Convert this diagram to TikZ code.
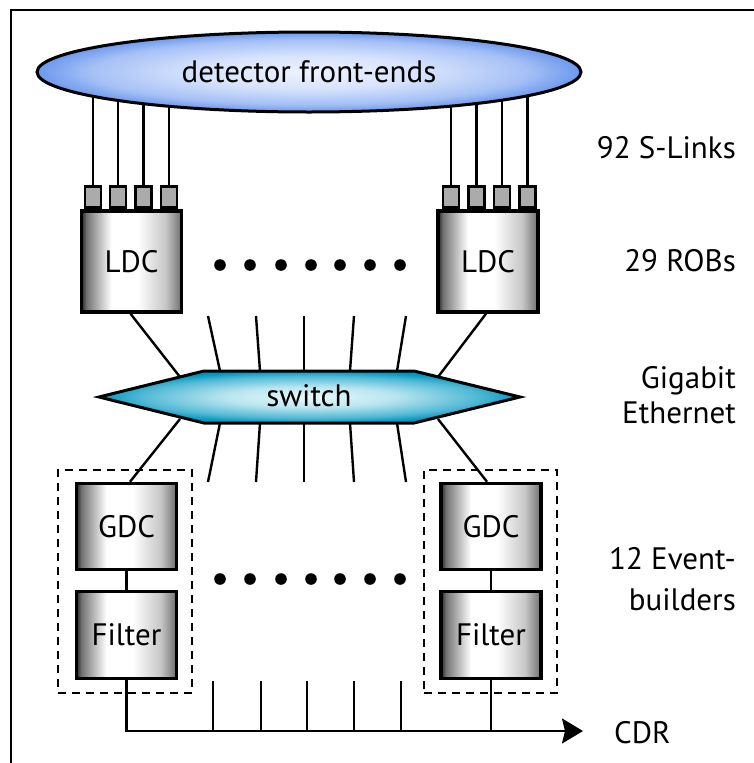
\documentclass[tikz,border=0pt]{standalone}
\usepackage{fontspec}
\setmainfont{PT Sans}
\usetikzlibrary{arrows.meta,shapes.geometric}
\pgfdeclarelayer{background}
\pgfsetlayers{background,main}
\pgfdeclarehorizontalshading{boxshade}{100bp}{color(0bp)=(black!85); color(25bp)=(black!85); color(27.5bp)=(black!55); color(40bp)=(white); color(53bp)=(white); color(67bp)=(black!22); color(73.5bp)=(black!50); color(75bp)=(black!65); color(100bp)=(black!65)}
\definecolor{feout}{RGB}{108,152,238}
\definecolor{fein}{RGB}{236,242,255}
\definecolor{swout}{RGB}{0,150,192}
\definecolor{swin}{RGB}{232,249,252}
\pgfdeclareradialshading{feshade}{\pgfpoint{0bp}{0bp}}{color(0bp)=(fein); color(10bp)=(fein!85!feout); color(20bp)=(fein!45!feout); color(25bp)=(feout); color(50bp)=(feout)}
\pgfdeclareradialshading{swshade}{\pgfpoint{0bp}{0bp}}{color(0bp)=(swin); color(10bp)=(swin!80!swout); color(20bp)=(swin!35!swout); color(25bp)=(swout); color(50bp)=(swout)}
\newcommand{\lblfont}{\fontsize{31}{31}\selectfont}
\begin{document}
\begin{tikzpicture}[x=1pt,y=-1pt,
  unitbox/.style={draw, line width=3.5pt, shading=boxshade, minimum width=100pt, inner sep=0pt, font=\lblfont},
  sq/.style={draw, line width=2.8pt, fill=black!33, minimum width=16pt, minimum height=21pt, inner sep=0pt},
  wire/.style={line width=2.4pt},
  dashbox/.style={draw, line width=2.4pt, dash pattern=on 8pt off 6pt},
  lbl/.style={anchor=base east, font=\lblfont, inner sep=0pt},
  dotmark/.style={fill=black}]
\useasboundingbox (0,0) rectangle (754,763);
% frame
\draw[line width=2.2pt] (754,10) -- (11,10) -- (11,763);
% front-ends
\node[ellipse, draw, line width=3pt, shading=feshade, minimum width=544pt, minimum height=80pt, font=\lblfont] (fe) at (309,72) {detector front-ends};
% S-link connectors
\foreach \i/\x in {1/93,2/118,3/143.5,4/169}{\node[sq] (ls\i) at (\x,197) {};}
\foreach \i/\x in {1/451,2/476.5,3/502,4/527.5}{\node[sq] (rs\i) at (\x,197) {};}
\begin{pgfonlayer}{background}
\foreach \i in {1,...,4}{
  \draw[wire] (ls\i.north) -- (ls\i.north |- fe.center);
  \draw[wire] (rs\i.north) -- (rs\i.north |- fe.center);}
\end{pgfonlayer}
% LDCs
\node[unitbox, minimum height=101pt] (ldcL) at (131.5,261.5) {LDC};
\node[unitbox, minimum height=101pt] (ldcR) at (488,261.5) {LDC};
\foreach \x in {220,250,281,311,340,370,400}{\fill[dotmark] (\x,265) circle (5.8pt);}
% switch
\coordinate (swL) at (99,397); \coordinate (swTL) at (204,371); \coordinate (swTR) at (414,371);
\coordinate (swR) at (520,397); \coordinate (swBR) at (414,423); \coordinate (swBL) at (204,423);
\shade[shading=swshade] (swL) -- (swTL) -- (swTR) -- (swR) -- (swBR) -- (swBL) -- cycle;
\draw[line width=3pt, line join=miter] (swL) -- (swTL) -- (swTR) -- (swR) -- (swBR) -- (swBL) -- cycle;
\node[font=\lblfont, inner sep=0pt] (sw) at (309,396) {switch};
% links LDC -> switch
\coordinate (ulA) at (180,377); \coordinate (ulB) at (438,377);
\begin{pgfonlayer}{background}
\draw[wire] (ldcL.south) ++(-1,0) -- (ulA);
\draw[wire] (ldcR.south) ++(-2,0) -- (ulB);
\end{pgfonlayer}
\foreach \i/\a/\b in {1/208/220,2/256/260,3/304/304,4/354/350,5/406/397}{
  \coordinate (ut\i) at (\a,316); \coordinate (ub\i) at (\b,371);
  \draw[wire] (ut\i) -- (ub\i);
  \coordinate (lt\i) at (\b,423); \coordinate (lb\i) at (\a,482);
  \draw[wire] (lt\i) -- (lb\i);}
% event builders
\node[dashbox, minimum width=134pt, minimum height=223pt] (ebL) at (125,581.5) {};
\node[dashbox, minimum width=133pt, minimum height=223pt] (ebR) at (490.5,581.5) {};
\node[unitbox, minimum height=86pt] (gdcL) at (126.5,526.5) {GDC};
\node[unitbox, minimum height=87pt] (filL) at (126.5,635) {Filter};
\node[unitbox, minimum height=86pt] (gdcR) at (491,526.5) {GDC};
\node[unitbox, minimum height=87pt] (filR) at (491,635) {Filter};
\draw[wire] (gdcL.south) -- (filL.north);
\draw[wire] (gdcR.south) -- (filR.north);
\coordinate (llA) at (180,419); \coordinate (llB) at (438,419);
\begin{pgfonlayer}{background}
\draw[wire] (llA) -- (gdcL.north -| 130,0);
\draw[wire] (llB) -- (gdcR.north -| 487,0);
\end{pgfonlayer}
\foreach \x in {220,250,281,311,340,370,400}{\fill[dotmark] (\x,579) circle (5.8pt);}
% CDR bus
\coordinate (busS) at (126.5,731);
\coordinate (cdrEnd) at (583,731);
\draw[wire, -{Stealth[length=21pt, width=25pt, inset=3pt]}] (filL.south) -- (busS) -- (cdrEnd);
\draw[wire] (filR.south) -- (filR.south |- busS);
\foreach \x in {213,261,307,354,401}{\draw[wire] (\x,681) -- (\x,731);}
\node[anchor=base west, font=\lblfont, inner sep=0pt] (cdr) at (614,743) {CDR};
% right labels
\node[lbl] (l1) at (736,158) {92 S-Links};
\node[lbl] (l2) at (736,271) {29 ROBs};
\node[lbl] (l3) at (736,388) {Gigabit};
\node[lbl] (l4) at (736,423) {Ethernet};
\node[lbl] (l5) at (736,569) {12 Event-};
\node[lbl] (l6) at (736,610) {builders};
\end{tikzpicture}
\end{document}
